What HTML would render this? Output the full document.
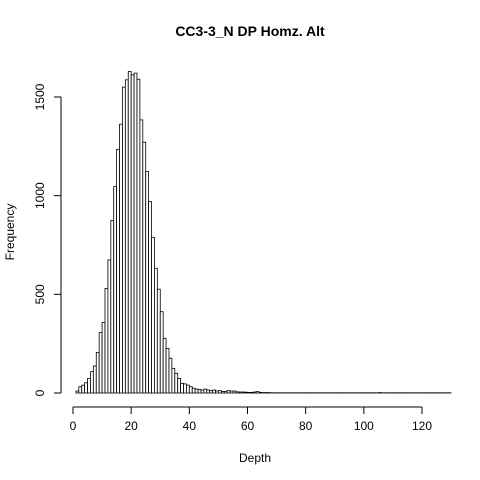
<!DOCTYPE html>
<html><head><meta charset="utf-8"><style>
body{margin:0;background:#fff}
svg{display:block;font-family:"Liberation Sans",Arial,sans-serif}
</style></head><body>
<svg id="c" width="480" height="480">
<text x="250" y="36" text-anchor="middle" font-size="14" font-weight="bold">CC3-3_N DP Homz. Alt</text>
<text x="255" y="462" text-anchor="middle" font-size="12">Depth</text>
<text transform="translate(14,232) rotate(-90)" text-anchor="middle" font-size="12">Frequency</text>
<g id="bars"></g>
<g id="xaxis"></g>
<g id="yaxis"></g>
</svg>
<script>
const binStart = 1;
const counts = [10,32,40,52,74,108,137,206,306,358,530,674,874,1046,1235,1362,1550,1587,1629,1612,1621,1590,1384,1271,1122,970,789,632,526,412,277,226,176,125,100,74,49,46,40,32,24,20,18,15,20,15,12,15,10,12,8,8,12,10,10,6,5,5,4,3,3,5,7,3,2,2,2,1,1,1,1,1,1,1,1,1,1,1,1,1,1,1,1,1,1,1,1,1,1,1,1,1,1,1,1,1,1,1,1,1,1,1,1,1,2,1,1,1,1,1,1,1,1,1,1,1,1,1,1,1,1,1,1,1,1,1,1,1,1];
const xTicks = [0,20,40,60,80,100,120];
const yTicks = [0,500,1000,1500];
const NS="http://www.w3.org/2000/svg";
const sx = v => 73 + v*(422-73)/120;
const sy = v => 393 - v*(296/1500);
function mk(t,a,p){const e=document.createElementNS(NS,t);for(const k in a)e.setAttribute(k,a[k]);p.appendChild(e);return e;}
const bars=document.getElementById('bars');
counts.forEach((c,i)=>{
  const x0=sx(binStart+i), x1=sx(binStart+i+1);
  const r=mk('rect',{x:x0,y:sy(c),width:x1-x0,height:sy(0)-sy(c),fill:'#fff',stroke:'#000','stroke-width':0.8},bars);
  
  
});
const xa=document.getElementById('xaxis');
mk('line',{x1:sx(xTicks[0]),x2:sx(xTicks[xTicks.length-1]),y1:407,y2:407,stroke:'#000'},xa);
xTicks.forEach(t=>{
  mk('line',{x1:sx(t),x2:sx(t),y1:407,y2:414,stroke:'#000'},xa);
  const tx=mk('text',{x:sx(t),y:430,'text-anchor':'middle','font-size':12},xa);tx.textContent=t;
  
  
});
const ya=document.getElementById('yaxis');
mk('line',{x1:61,x2:61,y1:sy(yTicks[0]),y2:sy(yTicks[yTicks.length-1]),stroke:'#000'},ya);
yTicks.forEach(t=>{
  mk('line',{x1:54,x2:61,y1:sy(t),y2:sy(t),stroke:'#000'},ya);
  const tx=mk('text',{transform:`translate(44,${sy(t)}) rotate(-90)`,'text-anchor':'middle','font-size':12},ya);tx.textContent=t;
  
  
});
</script>
</body></html>
